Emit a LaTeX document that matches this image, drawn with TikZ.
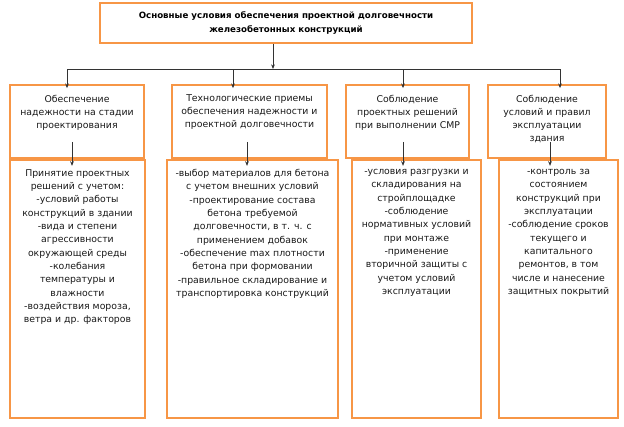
\documentclass[tikz,border=0pt]{standalone}
\usepackage{fontspec}
\setmainfont{DejaVu Sans}
\usetikzlibrary{positioning,arrows.meta}
\definecolor{boxor}{HTML}{F79646}

\begin{document}
\begin{tikzpicture}[x=0.75pt, y=-0.75pt,
    frame/.style={draw=boxor, line width=1.3pt, inner sep=0pt},
    head/.style={frame, minimum width=#1*0.75pt, minimum height=73*0.75pt},
    body/.style={frame, minimum width=#1*0.75pt, minimum height=258*0.75pt},
    txt/.style={align=center, inner sep=0pt, text=black!90, font=\fontsize{7}{10}\selectfont},
    arr/.style={-{Stealth[length=3.5pt,width=2.8pt]}, draw=black!80, line width=0.6pt}]
                \useasboundingbox (0,0) rectangle (624,426);
                % title
                \node [frame, minimum width=372*0.75pt, minimum height=40*0.75pt, align=center,
                       font=\bfseries\fontsize{6.5}{9.8}\selectfont] (top) at (286,23)
                      {Основные условия обеспечения проектной долговечности\\железобетонных конструкций};
                % upper row
                \node [head=134] (h1) at (77,121.5) {};
                \node [head=155] (h2) at (249.5,121.5) {};
                \node [head=123] (h3) at (407.5,121.5) {};
                \node [head=118] (h4) at (547,121.5) {};
                \node [txt, anchor=north, font=\fontsize{7}{9.75}\selectfont] (ht1) at ([yshift=-8pt]h1.north)
                      {Обеспечение\\надежности на стадии\\проектирования};
                \node [txt, anchor=north, font=\fontsize{7}{9.75}\selectfont] (ht2) at ([yshift=-8pt]h2.north)
                      {Технологические приемы\\обеспечения надежности и\\проектной долговечности};
                \node [txt, anchor=north, font=\fontsize{7}{9.75}\selectfont] (ht3) at ([yshift=-8pt]h3.north)
                      {Соблюдение\\проектных решений\\при выполнении СМР};
                \node [txt, anchor=north, font=\fontsize{7}{9.75}\selectfont] (ht4) at ([yshift=-8pt]h4.north)
                      {Соблюдение\\условий и правил\\эксплуатации\\здания};
                % lower row
                \node [body=135] (b1) at (77.5,289) {};
                \node [body=171] (b2) at (252.5,289) {};
                \node [body=129] (b3) at (416.5,289) {};
                \node [body=119] (b4) at (558.5,289) {};
                \node [txt, anchor=north] (bt1) at ([yshift=-7.5pt]b1.north)
                      {Принятие проектных\\решений с учетом:\\-условий работы\\конструкций в здании\\-вида и степени\\агрессивности\\окружающей среды\\-колебания\\температуры и\\влажности\\-воздействия мороза,\\ветра и др. факторов};
                \node [txt, anchor=north] (bt2) at ([yshift=-7.5pt]b2.north)
                      {-выбор материалов для бетона\\с учетом внешних условий\\-проектирование состава\\бетона требуемой\\долговечности, в т. ч. с\\применением добавок\\-обеспечение max плотности\\бетона при формовании\\-правильное складирование и\\транспортировка конструкций};
                \node [txt, anchor=north] (bt3) at ([yshift=-7.5pt]b3.north)
                      {-условия разгрузки и\\складирования на\\стройплощадке\\-соблюдение\\нормативных условий\\при монтаже\\-применение\\вторичной защиты с\\учетом условий\\эксплуатации};
                \node [txt, anchor=north] (bt4) at ([yshift=-7.5pt]b4.north)
                      {-контроль за\\состоянием\\конструкций при\\эксплуатации\\-соблюдение сроков\\текущего и\\капитального\\ремонтов, в том\\числе и нанесение\\защитных покрытий};
                % connectors
                \coordinate (bus) at (273,69);
                \coordinate (c1) at (67,69);
                \coordinate (c2) at (233,69);
                \coordinate (c3) at (403,69);
                \coordinate (c4) at (560,69);
                \draw [arr] (top.south -| bus) -- (bus);
                \draw [draw=black!80, line width=0.6pt] (c1) -- (c4);
                \draw [arr, shorten >=-3pt] (c1) -- (c1 |- h1.north);
                \draw [arr, shorten >=-3pt] (c2) -- (c2 |- h2.north);
                \draw [arr, shorten >=-3pt] (c3) -- (c3 |- h3.north);
                \draw [arr, shorten >=-3pt] (c4) -- (c4 |- h4.north);
                \draw [arr] (h1.south) ++(-5,-17) -- ++(0,24);
                \draw [arr] (h2.south) ++(-2.5,-17) -- ++(0,24);
                \draw [arr] (h3.south) ++(-4.5,-17) -- ++(0,24);
                \draw [arr] (h4.south) ++(3,-17) -- ++(0,24);
            \end{tikzpicture}
\end{document}
